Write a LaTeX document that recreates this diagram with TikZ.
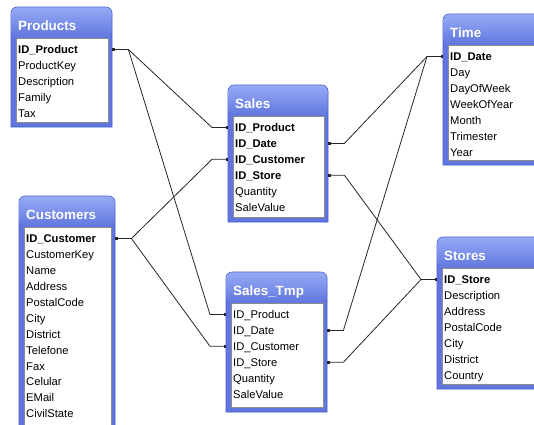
\documentclass[tikz,border=0pt]{standalone}
\usepackage{fontspec}
\setmainfont{Liberation Sans}

\definecolor{bartop}{RGB}{150,170,245}
\definecolor{barblue}{RGB}{96,118,222}
\definecolor{edgeblue}{RGB}{70,92,205}

\begin{document}
\begin{tikzpicture}[x=1pt, y=-1pt,
    frame/.style={fill=barblue, draw=edgeblue, line width=0.6pt},
    list/.style={fill=white, draw=black!45, line width=0.7pt},
    caption/.style={anchor=base west, inner sep=0pt, text=white, font=\fontsize{13.4}{15}\selectfont\bfseries},
    field/.style={anchor=west, inner xsep=7pt, inner ysep=0pt, text height=9pt, text depth=0.4pt, font=\fontsize{11.2}{13}\selectfont},
    link/.style={black!85, line width=0.8pt, {Square[length=2.4pt]}-{Square[length=2.4pt]}}]
  \usetikzlibrary{arrows.meta}
  \useasboundingbox (0,0) rectangle (534,424);
  \clip (0,0) rectangle (534,424);

  % table windows: blue frame, title bar, white field list
  \foreach \key/\l/\t/\r/\b/\title in {prod/11/7/112/127/Products, sales/228/85/328/222/Sales,
      time/443/14/545/165/Time, cust/19/196/115/440/Customers,
      tmp/226/272/327/412/Sales\_Tmp, store/437/237/545/389/Stores} {
    \path[frame] (\l,\b) -- (\l,{\t+6}) arc[start angle=180, end angle=270, radius=6]
      -- ({\r-6},\t) arc[start angle=270, end angle=360, radius=6] -- (\r,\b) -- cycle;
    \shade[top color=bartop, bottom color=barblue, rounded corners=5.4pt]
      ({\l+0.3},{\t+0.3}) rectangle ({\r-0.3},{\t+31});
    \path[list] ({\l+5},{\t+31}) rectangle ({\r-4},{\b-5});
    \node[caption] (cap-\key) at ({\l+7},{\t+23}) {\title};
  }

  % fields
  \foreach \f [count=\i] in {\textbf{ID\_Product}, ProductKey, Description, Family, Tax}
    \node[field, text width=87pt] (prod-\i) at (11,{49.5+15.9*(\i-1)}) {\f};
  \foreach \f [count=\i] in {\textbf{ID\_Product}, \textbf{ID\_Date}, \textbf{ID\_Customer}, \textbf{ID\_Store}, Quantity, SaleValue}
    \node[field, text width=86pt] (sales-\i) at (228,{127.5+15.9*(\i-1)}) {\f};
  \foreach \f [count=\i] in {\textbf{ID\_Date}, Day, DayOfWeek, WeekOfYear, Month, Trimester, Year}
    \node[field, text width=80pt] (time-\i) at (443,{56.5+15.9*(\i-1)}) {\f};
  \foreach \f [count=\i] in {\textbf{ID\_Customer}, CustomerKey, Name, Address, PostalCode, City, District,
      Telefone, Fax, Celular, EMail, CivilState}
    \node[field, text width=82pt] (cust-\i) at (19,{238.5+15.9*(\i-1)}) {\f};
  \foreach \f [count=\i] in {ID\_Product, ID\_Date, ID\_Customer, ID\_Store, Quantity, SaleValue}
    \node[field, text width=87pt] (tmp-\i) at (226,{314.5+15.9*(\i-1)}) {\f};
  \foreach \f [count=\i] in {\textbf{ID\_Store}, Description, Address, PostalCode, City, District, Country}
    \node[field, text width=80pt] (store-\i) at (437,{279.5+15.9*(\i-1)}) {\f};

  % relationships
  \draw[link] (prod-1.east) -- ++(16,0) -- ([xshift=-16pt]sales-1.west) -- (sales-1.west);
  \draw[link] (prod-1.east) -- ++(16,0) -- ([xshift=-16pt]tmp-1.west) -- (tmp-1.west);
  \draw[link] (cust-1.east) -- ++(16,0) -- ([xshift=-16pt]sales-3.west) -- (sales-3.west);
  \draw[link] (cust-1.east) -- ++(16,0) -- ([xshift=-16pt]tmp-3.west) -- (tmp-3.west);
  \draw[link] (time-1.west) -- ++(-16,0) -- ([xshift=16pt]sales-2.east) -- (sales-2.east);
  \draw[link] (time-1.west) -- ++(-16,0) -- ([xshift=16pt]tmp-2.east) -- (tmp-2.east);
  \draw[link] (store-1.west) -- ++(-16,0) -- ([xshift=16pt]sales-4.east) -- (sales-4.east);
  \draw[link] (store-1.west) -- ++(-16,0) -- ([xshift=16pt]tmp-4.east) -- (tmp-4.east);
\end{tikzpicture}
\end{document}
